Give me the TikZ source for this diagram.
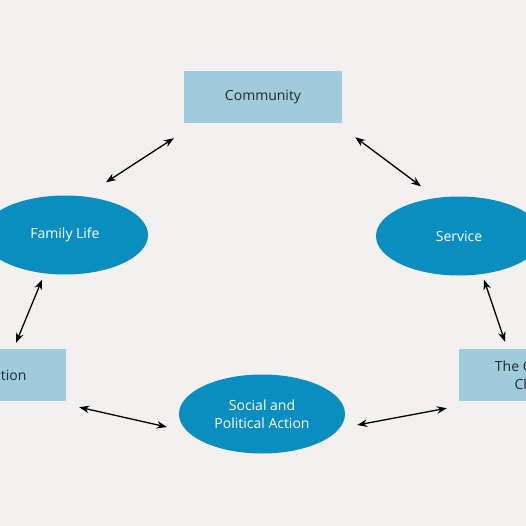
\documentclass[tikz,border=0pt]{standalone}
\usepackage{fontspec}
\setmainfont{Open Sans}
\usetikzlibrary{arrows.meta,positioning,calc,shapes.geometric}
\definecolor{bgcol}{HTML}{F2F1EF}
\definecolor{ovalcol}{HTML}{0A8EC0}
\definecolor{boxcol}{HTML}{9FCBDA}
\definecolor{boxtext}{HTML}{1C2B3A}

\begin{document}
\begin{tikzpicture}[x=1pt,y=-1pt,>={Stealth[length=10pt,width=7.5pt]},
  box/.style={fill=boxcol,text=boxtext,minimum width=158pt,minimum height=52pt,inner sep=0pt,align=center,font=\fontsize{14}{18}\selectfont},
  oval/.style={ellipse,fill=ovalcol,text=white,minimum width=166pt,minimum height=79pt,inner sep=0pt,align=center,font=\fontsize{14}{18}\selectfont},
  link/.style={<->,line width=1.3pt}]
\useasboundingbox (0,0) rectangle (526,526);
\fill[bgcol] (0,0) rectangle (526,526);
\clip (0,0) rectangle (526,526);
\node[box] (comm) at (263,97) {Community};
\node[oval] (fam) at (65,235) {Family Life};
\node[oval] (serv) at (459,236) {Service};
\node[box,minimum width=144pt] (edu) at (-6,375) {Education};
\node[box] (chu) at (538,375) {The Christian\\Church};
\node[oval] (soc) at (262,414) {Social and\\Political Action};
\draw[link] ($(comm.south west)+(-10,15)$) -- ($(fam.north)+(41,-13)$);
\draw[link] ($(comm.south east)+(13,14)$) -- ($(serv.north)+(-38,-10)$);
\draw[link] ($(fam.south)+(-23,5)$) -- ($(edu.north)+(22,-6)$);
\draw[link] ($(serv.south)+(25,4)$) -- ($(chu.north)+(-33,-7)$);
\draw[link] ($(edu.south east)+(13,6)$) -- ($(soc.west)+(-12,13)$);
\draw[link] ($(soc.east)+(12,11)$) -- ($(chu.south west)+(-12,7)$);
\end{tikzpicture}
\end{document}
